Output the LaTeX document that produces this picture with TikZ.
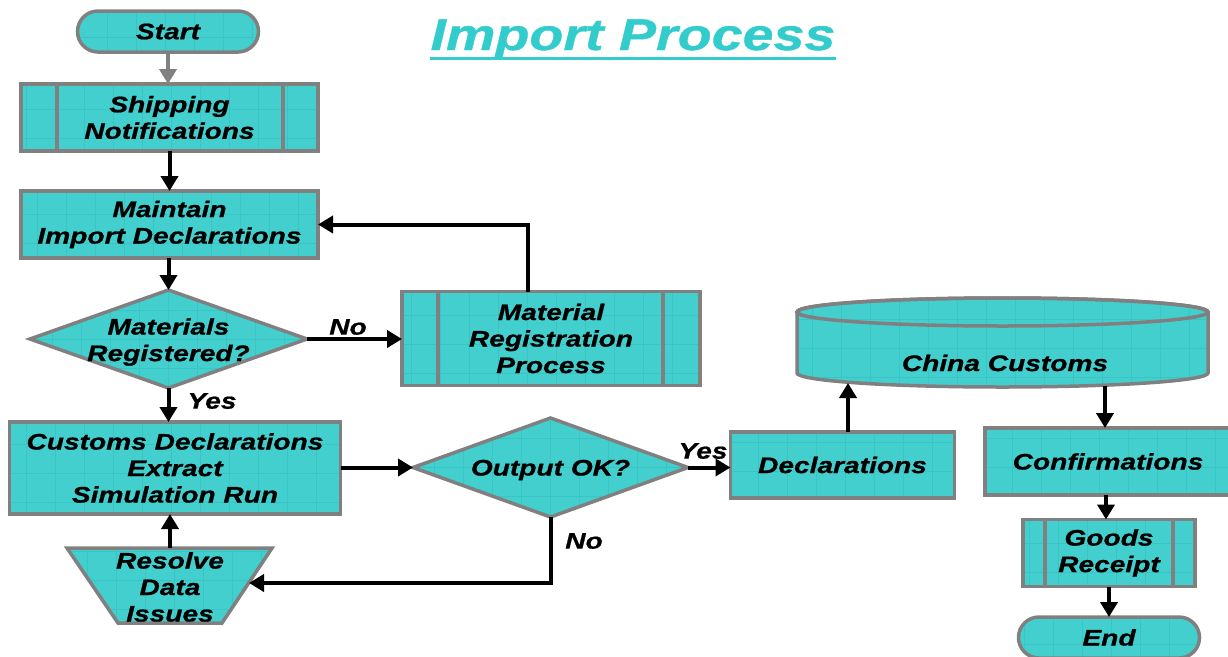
\documentclass[tikz,border=0pt]{standalone}
\usepackage{fontspec}
\newfontfamily\lblfont[FakeStretch=1.25, BoldItalicFeatures={FakeBold=0.8}]{Liberation Sans}
\usetikzlibrary{arrows.meta,shapes.geometric}
\definecolor{boxfill}{RGB}{68,207,207}
\definecolor{gridline}{RGB}{58,197,197}
\definecolor{edge}{RGB}{128,128,128}
\definecolor{titlecol}{RGB}{51,204,204}
\tikzset{
  x=1pt, y=1pt,
  textured/.style={path picture={
      \draw[gridline, line width=0.8pt]
        ([shift={(-30pt,-30pt)}]path picture bounding box.south west)
        grid[step=29pt]
        (path picture bounding box.north east);}},
  shapebase/.style={draw=edge, line width=3.5pt, fill=boxfill, textured,
    inner sep=0pt, outer sep=0pt},
  lbl/.style={font=\lblfont\bfseries\itshape\fontsize{22.5}{26.5}\selectfont,
    align=center, text=black},
  proc/.style={shapebase, lbl, rectangle, minimum width=#1},
  pill/.style={shapebase, lbl, rectangle, rounded corners=20.5pt,
    minimum width=181pt, minimum height=41pt},
  decision/.style={shapebase, diamond, minimum width=#1},
  arr/.style={-{Triangle[length=15pt,width=17pt]}, line width=4pt, black},
  partline/.style={draw=edge, line width=3.5pt},
  tag/.style={lbl, inner sep=0pt},
}
\begin{document}
\begin{tikzpicture}
\useasboundingbox (0,0) rectangle (1228,-656);
\clip (0,0) rectangle (1228,-656);

% title
\node[inner sep=0pt, anchor=base, text=titlecol,
      font=\lblfont\bfseries\itshape\fontsize{44.5}{50}\selectfont]
  (title) at (633,-50) {Import Process};
\draw[titlecol, line width=3pt]
  ([yshift=-8pt]title.base west) -- ([yshift=-8pt]title.base east);

% left column
\node[pill] (start) at (168,-31.5) {\raisebox{-1.5pt}{Start}};
\node[proc=297pt, minimum height=67pt] (ship) at (169.5,-117.5) {Shipping\\Notifications};
\draw[partline] ([xshift=36pt]ship.north west) -- ([xshift=36pt]ship.south west);
\draw[partline] ([xshift=-35pt]ship.north east) -- ([xshift=-35pt]ship.south east);
\node[proc=297pt, minimum height=67pt] (maint) at (169.5,-224.5) {Maintain\\Import Declarations};
\node[decision=277pt, minimum height=98pt] (matreg) at (168.5,-339) {};
\node[tag] (matregt) at (168.5,-342) {Materials\\Registered?};
\node[proc=298pt, minimum height=94pt] (mrp) at (551,-338.5) {Material\\Registration\\Process};
\draw[partline] ([xshift=36pt]mrp.north west) -- ([xshift=36pt]mrp.south west);
\draw[partline] ([xshift=-37pt]mrp.north east) -- ([xshift=-37pt]mrp.south east);
\node[proc=331pt, minimum height=92pt] (cde) at (175,-468) {Customs Declarations\\Extract\\Simulation Run};

% manual operation: wide at the top, narrow at the bottom
\path[shapebase] (67,-548) -- (272,-548) -- (222,-623) -- (118,-623) -- cycle;
\node[tag] (res) at (170,-587) {Resolve\\Data\\Issues};
\coordinate (restop) at (170,-548);
\coordinate (resside) at (249,-583);

% middle
\node[decision=275pt, minimum height=99pt] (ok) at (550.5,-467.5) {};
\node[tag] (okt) at (550.5,-470) {Output OK?};
\node[proc=224pt, minimum height=66pt] (decl) at (842.5,-465) {\raisebox{-1.5pt}{Declarations}};

% customs database
\path[shapebase] (797,-312) -- (797,-373) arc[start angle=180, end angle=360,
  x radius=205.5, y radius=14] -- (1208,-312) arc[start angle=0, end angle=180,
  x radius=205.5, y radius=14] -- cycle;
\draw[partline] (1002.5,-312) ellipse[x radius=205.5, y radius=14];
\node[tag] (cc) at (1005,-363) {China Customs};
\coordinate (ccin) at (848,-383);
\coordinate (ccout) at (1105,-386);

% right column
\node[proc=246pt, minimum height=67pt] (conf) at (1108,-461.5) {\raisebox{-2pt}{Confirmations}};
\node[proc=172pt, minimum height=67pt] (gr) at (1109,-553) {Goods\\Receipt};
\draw[partline] ([xshift=22pt]gr.north west) -- ([xshift=22pt]gr.south west);
\draw[partline] ([xshift=-22pt]gr.north east) -- ([xshift=-22pt]gr.south east);
\node[pill] (finish) at (1109,-637.5) {\raisebox{-1.5pt}{End}};

% connectors
\draw[arr, color=edge] (start.south) -- (start.south |- ship.north);
\draw[arr] (ship) -- (maint);
\draw[arr] (maint.south -| matreg.north) -- (matreg.north);
\draw[arr] (matreg.east) -- (matreg.east -| mrp.west);
\node[tag] (lno1) at (348,-327) {No};
\draw[arr] ([xshift=-23pt]mrp.north) |- (maint.east);
\draw[arr] (matreg.south) -- (matreg.south |- cde.north);
\node[tag] (lyes1) at (212,-401) {Yes};
\draw[arr] (cde.east |- ok.west) -- (ok.west);
\draw[arr] (ok.east) -- (ok.east -| decl.west);
\node[tag] (lyes2) at (703,-451) {Yes};
\draw[arr] (ok.south) |- (resside);
\node[tag] (lno2) at (584,-541) {No};
\draw[arr] (restop) -- (restop |- cde.south);
\draw[arr] (decl.north -| ccin) -- (ccin);
\draw[arr] (ccout) -- (ccout |- conf.north);
\draw[arr] ([xshift=-3pt]gr.north |- conf.south) -- ([xshift=-3pt]gr.north);
\draw[arr] (gr.south) -- (finish.north);
\end{tikzpicture}
\end{document}
